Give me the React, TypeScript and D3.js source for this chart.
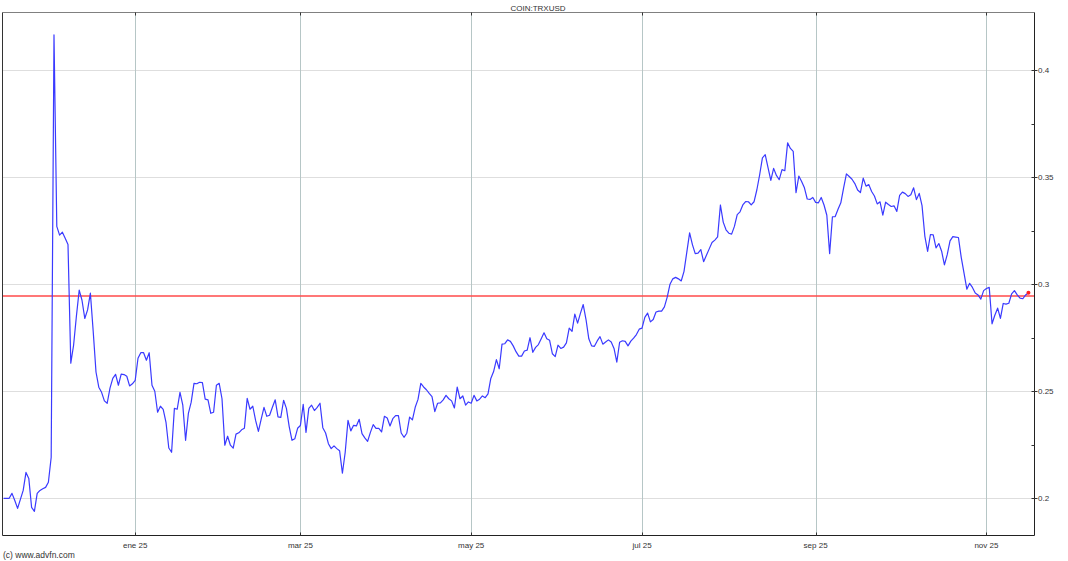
import React from "react";
import * as d3 from "d3";

// ---- data (daily closes, COIN:TRXUSD) ----
const startDate = "2024-11-15";
const prices: number[] = [
  0.2000, 0.2000, 0.2000, 0.2023, 0.1990, 0.1953, 0.1995, 0.2037, 0.2121, 0.2093,
  0.1958, 0.1939, 0.2023, 0.2037, 0.2045, 0.2051, 0.2075, 0.2192, 0.4164, 0.3270,
  0.3229, 0.3243, 0.3215, 0.3185, 0.2631, 0.2715, 0.2850, 0.2972, 0.2925, 0.2840,
  0.2880, 0.2958, 0.2780, 0.2590, 0.2519, 0.2495, 0.2455, 0.2444, 0.2515, 0.2560,
  0.2579, 0.2528, 0.2580, 0.2578, 0.2570, 0.2525, 0.2535, 0.2551, 0.2654, 0.2680,
  0.2680, 0.2645, 0.2680, 0.2528, 0.2500, 0.2402, 0.2430, 0.2415, 0.2355, 0.2235,
  0.2215, 0.2420, 0.2416, 0.2495, 0.2435, 0.2271, 0.2397, 0.2449, 0.2537, 0.2535,
  0.2542, 0.2540, 0.2463, 0.2460, 0.2397, 0.2402, 0.2528, 0.2537, 0.2465, 0.2248,
  0.2290, 0.2248, 0.2234, 0.2300, 0.2306, 0.2320, 0.2327, 0.2467, 0.2416, 0.2430,
  0.2364, 0.2313, 0.2370, 0.2425, 0.2383, 0.2388, 0.2425, 0.2460, 0.2380, 0.2378,
  0.2458, 0.2420, 0.2335, 0.2271, 0.2278, 0.2327, 0.2340, 0.2439, 0.2308, 0.2420,
  0.2435, 0.2410, 0.2425, 0.2444, 0.2330, 0.2305, 0.2255, 0.2232, 0.2245, 0.2232,
  0.2222, 0.2117, 0.2215, 0.2364, 0.2315, 0.2341, 0.2338, 0.2369, 0.2302, 0.2282,
  0.2266, 0.2308, 0.2344, 0.2327, 0.2327, 0.2310, 0.2383, 0.2375, 0.2338, 0.2372,
  0.2386, 0.2386, 0.2305, 0.2285, 0.2304, 0.2379, 0.2366, 0.2425, 0.2462, 0.2537,
  0.2520, 0.2507, 0.2490, 0.2475, 0.2405, 0.2444, 0.2446, 0.2460, 0.2481, 0.2465,
  0.2455, 0.2422, 0.2519, 0.2465, 0.2478, 0.2435, 0.2450, 0.2444, 0.2481, 0.2455,
  0.2463, 0.2478, 0.2470, 0.2488, 0.2560, 0.2592, 0.2648, 0.2605, 0.2720, 0.2722,
  0.2740, 0.2733, 0.2712, 0.2685, 0.2664, 0.2664, 0.2688, 0.2692, 0.2750, 0.2682,
  0.2705, 0.2718, 0.2745, 0.2773, 0.2745, 0.2738, 0.2675, 0.2662, 0.2715, 0.2700,
  0.2706, 0.2726, 0.2795, 0.2780, 0.2860, 0.2818, 0.2864, 0.2905, 0.2835, 0.2745,
  0.2712, 0.2710, 0.2735, 0.2755, 0.2720, 0.2730, 0.2740, 0.2730, 0.2700, 0.2636,
  0.2729, 0.2736, 0.2733, 0.2712, 0.2734, 0.2748, 0.2765, 0.2790, 0.2795, 0.2845,
  0.2865, 0.2824, 0.2835, 0.2870, 0.2874, 0.2874, 0.2894, 0.2940, 0.3000, 0.3025,
  0.3032, 0.3025, 0.3015, 0.3060, 0.3150, 0.3240, 0.3185, 0.3143, 0.3145, 0.3162,
  0.3105, 0.3135, 0.3165, 0.3195, 0.3206, 0.3221, 0.3370, 0.3290, 0.3254, 0.3238,
  0.3234, 0.3270, 0.3325, 0.3338, 0.3370, 0.3386, 0.3385, 0.3370, 0.3385, 0.3440,
  0.3510, 0.3590, 0.3605, 0.3545, 0.3485, 0.3541, 0.3508, 0.3488, 0.3535, 0.3530,
  0.3660, 0.3634, 0.3620, 0.3427, 0.3505, 0.3480, 0.3450, 0.3398, 0.3396, 0.3405,
  0.3382, 0.3380, 0.3405, 0.3370, 0.3322, 0.3143, 0.3315, 0.3316, 0.3350, 0.3380,
  0.3450, 0.3515, 0.3503, 0.3490, 0.3470, 0.3440, 0.3428, 0.3495, 0.3458, 0.3465,
  0.3433, 0.3412, 0.3375, 0.3385, 0.3323, 0.3383, 0.3372, 0.3363, 0.3366, 0.3340,
  0.3415, 0.3430, 0.3423, 0.3410, 0.3418, 0.3450, 0.3395, 0.3424, 0.3367, 0.3225,
  0.3153, 0.3232, 0.3230, 0.3170, 0.3190, 0.3154, 0.3090, 0.3138, 0.3202, 0.3222,
  0.3220, 0.3218, 0.3125, 0.3052, 0.2977, 0.3004, 0.2985, 0.2959, 0.2950, 0.2930,
  0.2970, 0.2980, 0.2985, 0.2815, 0.2855, 0.2888, 0.2840, 0.2910, 0.2907, 0.2911,
  0.2955, 0.2970, 0.2950, 0.2935, 0.2932, 0.2950, 0.2960,
];
const referencePrice = 0.2945;

const title = "COIN:TRXUSD";
const watermark = "(c) www.advfn.com";
const xTickDates = ["2025-01-01", "2025-03-01", "2025-05-01", "2025-07-01", "2025-09-01", "2025-11-01"];
const xTickLabels = ["ene 25", "mar 25", "may 25", "jul 25", "sep 25", "nov 25"];
const yTickValues = [0.2, 0.25, 0.3, 0.35, 0.4];
const yTickLabels = ["0.2", "0.25", "0.3", "0.35", "0.4"];
const yMinorTicks = [0.225, 0.275, 0.325, 0.375];

const W = 1068;
const H = 561;
const L = 2.5, R = 1034.5, T = 12.5, B = 535.5;
const FONT = "'Liberation Sans', Arial, sans-serif";

export default function App() {
  const start = d3.utcParse("%Y-%m-%d")(startDate) as Date;
  const data = prices.map((v, i) => ({ date: d3.utcDay.offset(start, i), value: v }));

  const x = d3
    .scaleUtc()
    .domain([new Date(Date.UTC(2024, 10, 14, 14, 40)), new Date(Date.UTC(2025, 10, 18, 4, 0))])
    .range([L, R]);
  const y = d3.scaleLinear().domain([0.1824, 0.4268]).range([536, 12.7]);

  const line = d3
    .line<{ date: Date; value: number }>()
    .x((d) => x(d.date))
    .y((d) => y(d.value));

  const last = data[data.length - 1];
  const xt = xTickDates.map((s) => d3.utcParse("%Y-%m-%d")(s) as Date);
  const snap = (v: number) => Math.round(v) + 0.5;

  return (
    <svg
      width={W}
      height={H}
      style={{ position: "absolute", left: 0, top: 0, background: "#fff" }}
      fontFamily={FONT}
    >
      <rect x={0} y={0} width={W} height={H} fill="#fff" />
      {/* horizontal grid */}
      {yTickValues.map((v, i) => (
        <line
          key={"hg" + i}
          x1={L}
          x2={R}
          y1={snap(y(v))}
          y2={snap(y(v))}
          stroke="#bdbdbd"
          strokeDasharray="1,1"
        />
      ))}
      {/* vertical grid */}
      {xt.map((d, i) => (
        <line key={"vg" + i} x1={snap(x(d))} x2={snap(x(d))} y1={T} y2={B} stroke="#b6c6c6" />
      ))}
      {/* reference line */}
      <line
        x1={L}
        x2={R}
        y1={y(referencePrice)}
        y2={y(referencePrice)}
        stroke="#ff4a4a"
        strokeWidth={1.3}
      />
      {/* price line */}
      <path d={line(data) || ""} fill="none" stroke="#3a3aff" strokeWidth={1.2} strokeLinejoin="round" />
      <circle cx={x(last.date)} cy={y(last.value)} r={2} fill="#ff2020" />
      {/* frame */}
      <line x1={L} x2={R} y1={T} y2={T} stroke="#808080" />
      <line x1={L} x2={L} y1={T} y2={B} stroke="#333" />
      <line x1={L} x2={R} y1={B} y2={B} stroke="#222" />
      <line x1={R} x2={R} y1={T} y2={B} stroke="#222" />
      {/* x ticks */}
      {xt.map((d, i) => (
        <g key={"xt" + i}>
          <line x1={snap(x(d))} x2={snap(x(d))} y1={B - 3} y2={B} stroke="#333" />
          <line x1={snap(x(d))} x2={snap(x(d))} y1={T} y2={T + 3} stroke="#333" />
          <text x={x(d)} y={547.5} fontSize={8} textAnchor="middle" fill="#333">
            {xTickLabels[i]}
          </text>
        </g>
      ))}
      {/* y ticks */}
      {yTickValues.map((v, i) => (
        <g key={"yt" + i}>
          <line x1={R - 3} x2={R + 3} y1={snap(y(v))} y2={snap(y(v))} stroke="#333" />
          <text x={R + 3.5} y={y(v)} dy="0.35em" fontSize={8} fill="#333">
            {yTickLabels[i]}
          </text>
        </g>
      ))}
      {yMinorTicks.map((v, i) => (
        <line key={"ym" + i} x1={R - 3} x2={R} y1={snap(y(v))} y2={snap(y(v))} stroke="#333" />
      ))}
      {/* title */}
      <text x={538} y={10.5} fontSize={8} textAnchor="middle" fill="#333">
        {title}
      </text>
      <text x={3} y={557.5} fontSize={8.5} fill="#333">
        {watermark}
      </text>
    </svg>
  );
}
